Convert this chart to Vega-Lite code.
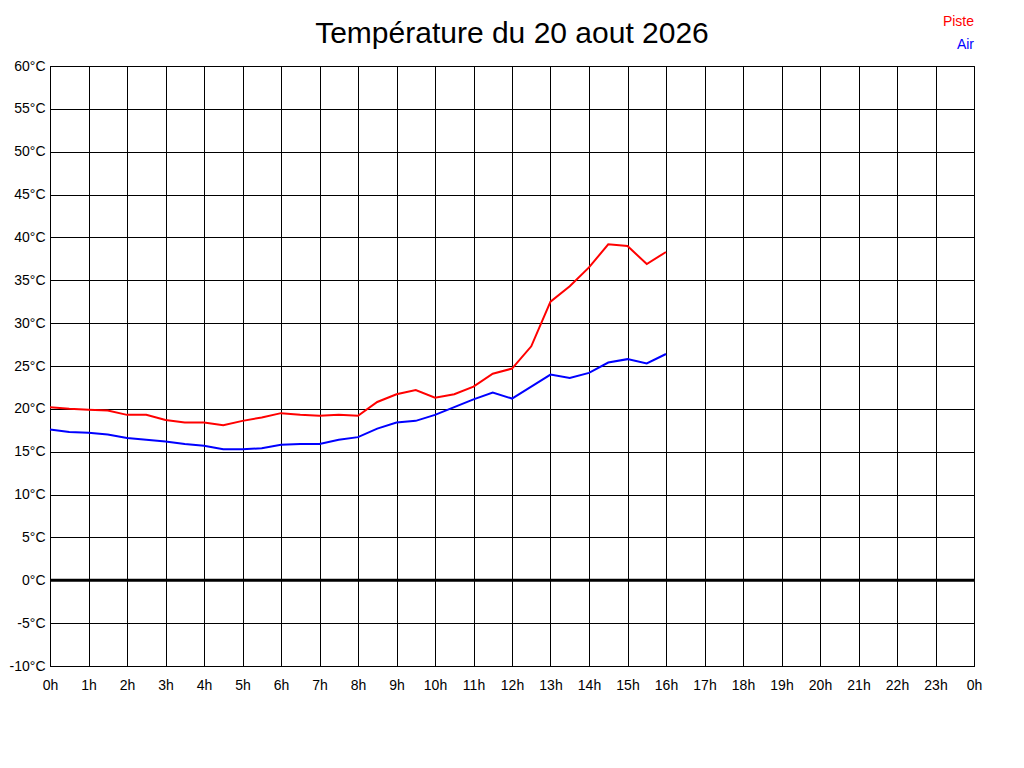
{
  "$schema": "https://vega.github.io/schema/vega-lite/v6.json",
  "autosize": {"type": "none"},
  "width": 924,
  "height": 600,
  "padding": {"left": 50, "top": 66, "right": 50, "bottom": 102},
  "background": "white",
  "title": {
    "text": "Température du 20 aout 2026",
    "font": "Liberation Sans",
    "fontSize": 30,
    "fontWeight": "normal",
    "color": "black",
    "anchor": "middle",
    "baseline": "bottom",
    "offset": 16,
    "dy": 80
  },
  "config": {
    "view": {"stroke": "black", "strokeWidth": 1},
    "axis": {
      "labelFont": "Liberation Sans",
      "labelFontSize": 14,
      "labelColor": "black",
      "grid": true,
      "gridColor": "black",
      "gridOpacity": 1,
      "gridWidth": 1,
      "domainColor": "black",
      "ticks": false,
      "title": null
    }
  },
  "data": {
    "values": [
      {"h": 0, "t": 20.2, "s": "Piste"}, {"h": 0.5, "t": 20.0, "s": "Piste"}, {"h": 1, "t": 19.9, "s": "Piste"}, {"h": 1.5, "t": 19.8, "s": "Piste"},
      {"h": 2, "t": 19.3, "s": "Piste"}, {"h": 2.5, "t": 19.3, "s": "Piste"}, {"h": 3, "t": 18.7, "s": "Piste"}, {"h": 3.5, "t": 18.4, "s": "Piste"},
      {"h": 4, "t": 18.4, "s": "Piste"}, {"h": 4.5, "t": 18.1, "s": "Piste"}, {"h": 5, "t": 18.6, "s": "Piste"}, {"h": 5.5, "t": 19.0, "s": "Piste"},
      {"h": 6, "t": 19.5, "s": "Piste"}, {"h": 6.5, "t": 19.3, "s": "Piste"}, {"h": 7, "t": 19.2, "s": "Piste"}, {"h": 7.5, "t": 19.3, "s": "Piste"},
      {"h": 8, "t": 19.2, "s": "Piste"}, {"h": 8.5, "t": 20.8, "s": "Piste"}, {"h": 9, "t": 21.7, "s": "Piste"}, {"h": 9.5, "t": 22.2, "s": "Piste"},
      {"h": 10, "t": 21.3, "s": "Piste"}, {"h": 10.5, "t": 21.7, "s": "Piste"}, {"h": 11, "t": 22.6, "s": "Piste"}, {"h": 11.5, "t": 24.1, "s": "Piste"},
      {"h": 12, "t": 24.7, "s": "Piste"}, {"h": 12.5, "t": 27.3, "s": "Piste"}, {"h": 13, "t": 32.5, "s": "Piste"}, {"h": 13.5, "t": 34.3, "s": "Piste"},
      {"h": 14, "t": 36.5, "s": "Piste"}, {"h": 14.5, "t": 39.2, "s": "Piste"}, {"h": 15, "t": 39.0, "s": "Piste"}, {"h": 15.5, "t": 36.9, "s": "Piste"},
      {"h": 16, "t": 38.3, "s": "Piste"},
      {"h": 0, "t": 17.6, "s": "Air"}, {"h": 0.5, "t": 17.3, "s": "Air"}, {"h": 1, "t": 17.2, "s": "Air"}, {"h": 1.5, "t": 17.0, "s": "Air"},
      {"h": 2, "t": 16.6, "s": "Air"}, {"h": 2.5, "t": 16.4, "s": "Air"}, {"h": 3, "t": 16.2, "s": "Air"}, {"h": 3.5, "t": 15.9, "s": "Air"},
      {"h": 4, "t": 15.7, "s": "Air"}, {"h": 4.5, "t": 15.3, "s": "Air"}, {"h": 5, "t": 15.3, "s": "Air"}, {"h": 5.5, "t": 15.4, "s": "Air"},
      {"h": 6, "t": 15.8, "s": "Air"}, {"h": 6.5, "t": 15.9, "s": "Air"}, {"h": 7, "t": 15.9, "s": "Air"}, {"h": 7.5, "t": 16.4, "s": "Air"},
      {"h": 8, "t": 16.7, "s": "Air"}, {"h": 8.5, "t": 17.7, "s": "Air"}, {"h": 9, "t": 18.4, "s": "Air"}, {"h": 9.5, "t": 18.6, "s": "Air"},
      {"h": 10, "t": 19.3, "s": "Air"}, {"h": 10.5, "t": 20.2, "s": "Air"}, {"h": 11, "t": 21.1, "s": "Air"}, {"h": 11.5, "t": 21.9, "s": "Air"},
      {"h": 12, "t": 21.2, "s": "Air"}, {"h": 12.5, "t": 22.6, "s": "Air"}, {"h": 13, "t": 24.0, "s": "Air"}, {"h": 13.5, "t": 23.6, "s": "Air"},
      {"h": 14, "t": 24.2, "s": "Air"}, {"h": 14.5, "t": 25.4, "s": "Air"}, {"h": 15, "t": 25.8, "s": "Air"}, {"h": 15.5, "t": 25.3, "s": "Air"},
      {"h": 16, "t": 26.4, "s": "Air"}
    ]
  },
  "layer": [
    {
      "mark": {"type": "line", "strokeWidth": 2, "interpolate": "linear"},
      "encoding": {
        "x": {
          "field": "h", "type": "quantitative",
          "scale": {"domain": [0, 24], "nice": false, "zero": false},
          "axis": {
            "values": [0,1,2,3,4,5,6,7,8,9,10,11,12,13,14,15,16,17,18,19,20,21,22,23,24],
            "labelExpr": "(datum.value % 24) + 'h'",
            "labelPadding": 12,
            "labelFlush": false,
            "labelOverlap": false
          }
        },
        "y": {
          "field": "t", "type": "quantitative",
          "scale": {"domain": [-10, 60], "nice": false, "zero": false},
          "axis": {
            "values": [-10,-5,0,5,10,15,20,25,30,35,40,45,50,55,60],
            "labelExpr": "datum.value + '°C'",
            "labelPadding": 5,
            "labelFlush": false,
            "labelOverlap": false,
            "labelBaseline": "middle"
          }
        },
        "color": {
          "field": "s", "type": "nominal",
          "scale": {"domain": ["Piste", "Air"], "range": ["#ff0000", "#0000ff"]},
          "legend": {
            "orient": "none",
            "legendX": 910,
            "legendY": -51,
            "title": null,
            "symbolSize": 0,
            "symbolStrokeWidth": 0,
            "symbolOpacity": 0,
            "labelFont": "Liberation Sans",
            "labelFontSize": 14,
            "labelAlign": "right",
            "labelOffset": 0,
            "rowPadding": 9,
            "labelLimit": 0,
            "encode": {
              "labels": {"update": {"fill": {"signal": "datum.value === 'Piste' ? '#ff0000' : '#0000ff'"}}}
            }
          }
        }
      }
    },
    {
      "data": {"values": [{"z": 0}]},
      "mark": {"type": "rule", "color": "black", "strokeWidth": 3},
      "encoding": {"y": {"field": "z", "type": "quantitative"}}
    }
  ]
}
